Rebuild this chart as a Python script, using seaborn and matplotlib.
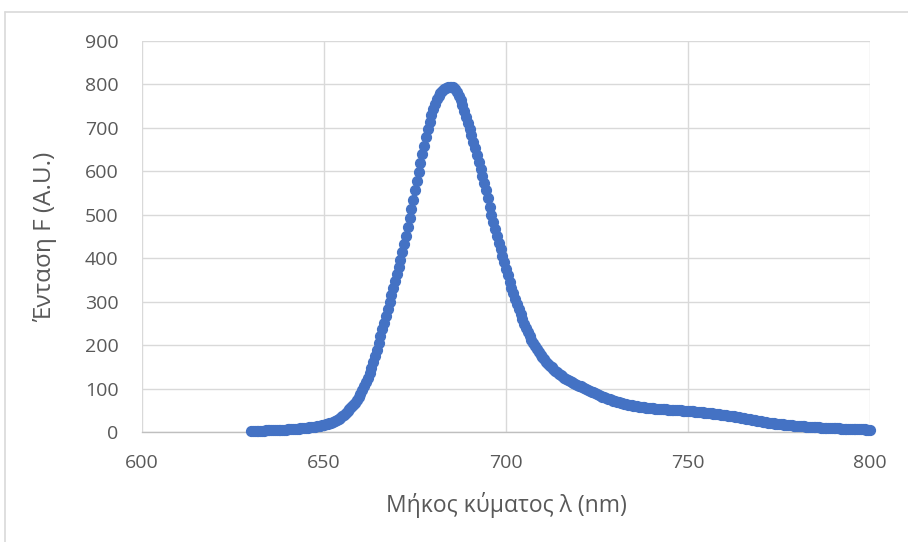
import numpy as np
import pandas as pd
import seaborn as sns
import matplotlib.pyplot as plt
from matplotlib.lines import Line2D

# Emission spectrum: wavelength grid (nm) and fluorescence intensity (A.U.)
wavelength_start = 630.0
wavelength_stop = 800.0
wavelength_step = 0.5

intensity = [
    2.0, 2.2, 2.4, 2.6, 2.8, 3.0, 3.1, 3.3, 3.5, 3.7,
    3.9, 4.1, 4.3, 4.5, 4.7, 4.9, 5.1, 5.3, 5.5, 5.7,
    6.0, 6.3, 6.6, 6.9, 7.2, 7.5, 7.9, 8.3, 8.7, 9.1,
    9.6, 10.1, 10.6, 11.2, 11.8, 12.4, 13.1, 13.9, 14.7, 15.6,
    16.6, 17.7, 18.9, 20.3, 21.8, 23.5, 25.4, 27.5, 29.8, 32.3,
    36.0, 39.5, 43.2, 47.3, 51.8, 56.7, 62.0, 67.8, 74.0, 80.7,
    88.0, 96.5, 105.5, 115.0, 125.0, 136.0, 148.0, 161.0, 175.0, 189.0,
    204.0, 220.0, 236.0, 252.0, 268.0, 284.0, 300.0, 316.0, 332.0, 347.0,
    363.0, 380.0, 397.0, 414.0, 432.0, 452.0, 472.0, 493.0, 514.0, 535.0,
    556.0, 577.0, 598.0, 619.0, 639.0, 659.0, 679.0, 697.0, 714.0, 730.0,
    744.0, 756.0, 766.0, 774.0, 780.0, 785.0, 789.0, 792.0, 794.0, 795.0,
    795.0, 793.0, 789.0, 782.0, 774.0, 764.0, 752.0, 739.0, 726.0, 712.0,
    698.0, 683.0, 668.0, 653.0, 638.0, 622.0, 606.0, 590.0, 574.0, 556.0,
    538.0, 519.0, 500.0, 483.0, 467.0, 451.0, 436.0, 421.0, 406.0, 391.0,
    376.0, 361.0, 346.0, 332.0, 319.0, 306.0, 294.0, 282.0, 271.0, 260.0,
    249.0, 239.0, 230.0, 221.0, 212.0, 204.0, 197.0, 190.0, 184.0, 178.0,
    172.0, 167.0, 162.0, 157.0, 153.0, 149.0, 145.0, 141.0, 138.0, 134.0,
    131.0, 128.0, 125.0, 122.5, 120.0, 117.5, 115.0, 113.0, 111.0, 109.0,
    107.0, 105.0, 103.0, 101.0, 99.0, 97.0, 95.0, 93.0, 91.0, 89.0,
    87.0, 85.0, 83.0, 81.5, 80.0, 78.5, 77.0, 75.5, 74.0, 72.5,
    71.0, 69.5, 68.0, 67.0, 66.0, 65.0, 64.0, 63.0, 62.0, 61.0,
    60.2, 59.5, 58.8, 58.2, 57.6, 57.0, 56.5, 56.0, 55.5, 55.0,
    54.6, 54.2, 53.8, 53.4, 53.0, 52.7, 52.4, 52.1, 51.8, 51.5,
    51.2, 51.0, 50.7, 50.5, 50.2, 50.0, 49.7, 49.4, 49.1, 48.8,
    48.5, 48.1, 47.7, 47.3, 46.9, 46.5, 46.1, 45.7, 45.2, 44.7,
    44.2, 43.7, 43.2, 42.7, 42.2, 41.7, 41.1, 40.5, 39.9, 39.3,
    38.7, 38.1, 37.5, 36.9, 36.3, 35.7, 35.1, 34.5, 33.8, 33.1,
    32.4, 31.6, 30.8, 30.0, 29.2, 28.4, 27.6, 26.8, 26.0, 25.3,
    24.6, 23.9, 23.2, 22.5, 21.8, 21.2, 20.6, 20.0, 19.4, 18.8,
    18.3, 17.8, 17.3, 16.8, 16.3, 15.9, 15.5, 15.1, 14.7, 14.3,
    14.0, 13.6, 13.3, 13.0, 12.7, 12.4, 12.1, 11.8, 11.5, 11.2,
    11.0, 10.7, 10.5, 10.2, 10.0, 9.8, 9.6, 9.4, 9.2, 9.0,
    8.8, 8.6, 8.4, 8.2, 8.0, 7.8, 7.6, 7.4, 7.3, 7.1,
    7.0, 6.8, 6.6, 6.5, 6.3, 6.2, 6.0, 5.9, 5.7, 5.6,
    5.5,
]

x_ticks = [600, 650, 700, 750, 800]
y_ticks = [0, 100, 200, 300, 400, 500, 600, 700, 800, 900]
x_title = "Μήκος κύματος λ (nm)"
y_title = "Ένταση F (A.U.)"

wavelength = np.arange(wavelength_start, wavelength_stop + wavelength_step / 2, wavelength_step)
df = pd.DataFrame({"wavelength": wavelength, "intensity": intensity})

sns.set_theme(style="white")
plt.rcParams["font.family"] = ["Open Sans", "DejaVu Sans"]

text_color = "#595959"
grid_color = "#d9d9d9"
point_color = "#4472C4"

fig = plt.figure(figsize=(9.08, 5.42), dpi=100)
ax = fig.add_axes([142 / 908, 1 - 432 / 542, (870 - 142) / 908, (432 - 41) / 542])

sns.scatterplot(data=df, x="wavelength", y="intensity", ax=ax,
                color=point_color, edgecolor=point_color, linewidth=1.0,
                s=50, zorder=3, clip_on=False)

ax.set_xlim(600, 800)
ax.set_ylim(0, 900)
ax.set_xticks(x_ticks)
ax.set_yticks(y_ticks)
ax.grid(True, color=grid_color, linewidth=1.0)
ax.set_axisbelow(True)

for side in ["top", "right", "left"]:
    ax.spines[side].set_visible(False)
ax.spines["bottom"].set_color("#bfbfbf")
ax.spines["bottom"].set_linewidth(1.0)
ax.spines["bottom"].set_zorder(2)

ax.tick_params(axis="both", length=0, labelsize=14, labelcolor=text_color)
ax.tick_params(axis="y", pad=17)
ax.tick_params(axis="x", pad=16)

ax.set_xlabel(x_title, fontsize=16.5, color=text_color, labelpad=14)
ax.set_ylabel(y_title, fontsize=17.5, color=text_color, labelpad=20)

# Light frame around the chart area
fig.add_artist(Line2D([5 / 908, 5 / 908], [0, 1 - 12 / 542], color=grid_color,
                      linewidth=1.2, transform=fig.transFigure))
fig.add_artist(Line2D([5 / 908, 1], [1 - 12 / 542, 1 - 12 / 542], color=grid_color,
                      linewidth=1.2, transform=fig.transFigure))

fig.savefig("out.png", dpi=100, facecolor="white")
